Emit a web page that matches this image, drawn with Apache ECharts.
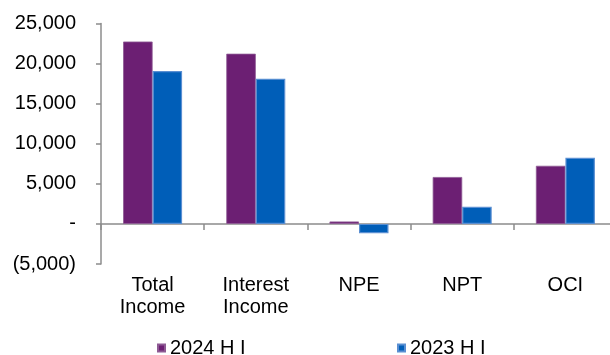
<!DOCTYPE html>
<html><head><meta charset="utf-8">
<script src="https://cdn.jsdelivr.net/npm/echarts@6/dist/echarts.min.js"></script>
<style>html,body{margin:0;padding:0;background:#fff;overflow:hidden}#c{width:618px;height:355px}</style>
</head><body><div id="c"></div>
<script>
var categories = ['Total\nIncome', 'Interest\nIncome', 'NPE', 'NPT', 'OCI'];
var series2024 = [22750, 21230, 300, 5850, 7250];
var series2023 = [19070, 18120, -1160, 2150, 8250];
var seriesNames = ['2024 H I', '2023 H I'];
var yTicks = { min: -5000, max: 25000, interval: 5000 };

var font = 'Liberation Sans, Arial, sans-serif';
var axisColor = '#8c8c8c';
function fmt(v) {
  if (v === 0) return '-';
  var s = Math.abs(v).toString().replace(/\B(?=(\d{3})+(?!\d))/g, ',');
  return v < 0 ? '(' + s + ')' : s;
}
var chart = echarts.init(document.getElementById('c'));
chart.setOption({
  animation: false,
  grid: { left: 101, top: 23.5, bottom: 91, right: 1 },
  legend: [
    { data: [seriesNames[0]], left: 152, top: 333, icon: 'rect', itemWidth: 7, itemHeight: 7, itemGap: 5,
      textStyle: { fontFamily: font, fontSize: 20, color: '#000' } },
    { data: [seriesNames[1]], left: 392, top: 333, icon: 'rect', itemWidth: 7, itemHeight: 7, itemGap: 5,
      textStyle: { fontFamily: font, fontSize: 20, color: '#000' } }
  ],
  xAxis: {
    type: 'category', data: categories,
    axisLine: { onZero: true, lineStyle: { color: axisColor, width: 1.5 } },
    axisTick: { show: true, inside: false, length: 6, lineStyle: { color: axisColor, width: 1.5 } },
    axisLabel: { margin: 10, fontFamily: font, fontSize: 20, color: '#000', lineHeight: 22 }
  },
  yAxis: {
    type: 'value', min: yTicks.min, max: yTicks.max, interval: yTicks.interval,
    splitLine: { show: false },
    axisLine: { show: true, lineStyle: { color: axisColor, width: 1.5 } },
    axisTick: { show: true, length: 5, lineStyle: { color: axisColor, width: 1.5 } },
    axisLabel: { margin: 25, fontFamily: font, fontSize: 20, color: '#000', formatter: fmt }
  },
  series: [
    { name: seriesNames[0], type: 'bar', data: series2024, barWidth: 29.5, barGap: '0%',
      itemStyle: { color: '#6C1F73', borderColor: '#8E5A94', borderWidth: 0.8 } },
    { name: seriesNames[1], type: 'bar', data: series2023, barWidth: 29.5, barGap: '0%',
      itemStyle: { color: '#005EB8', borderColor: '#5A8FD2', borderWidth: 1.2 } }
  ]
});
</script></body></html>
